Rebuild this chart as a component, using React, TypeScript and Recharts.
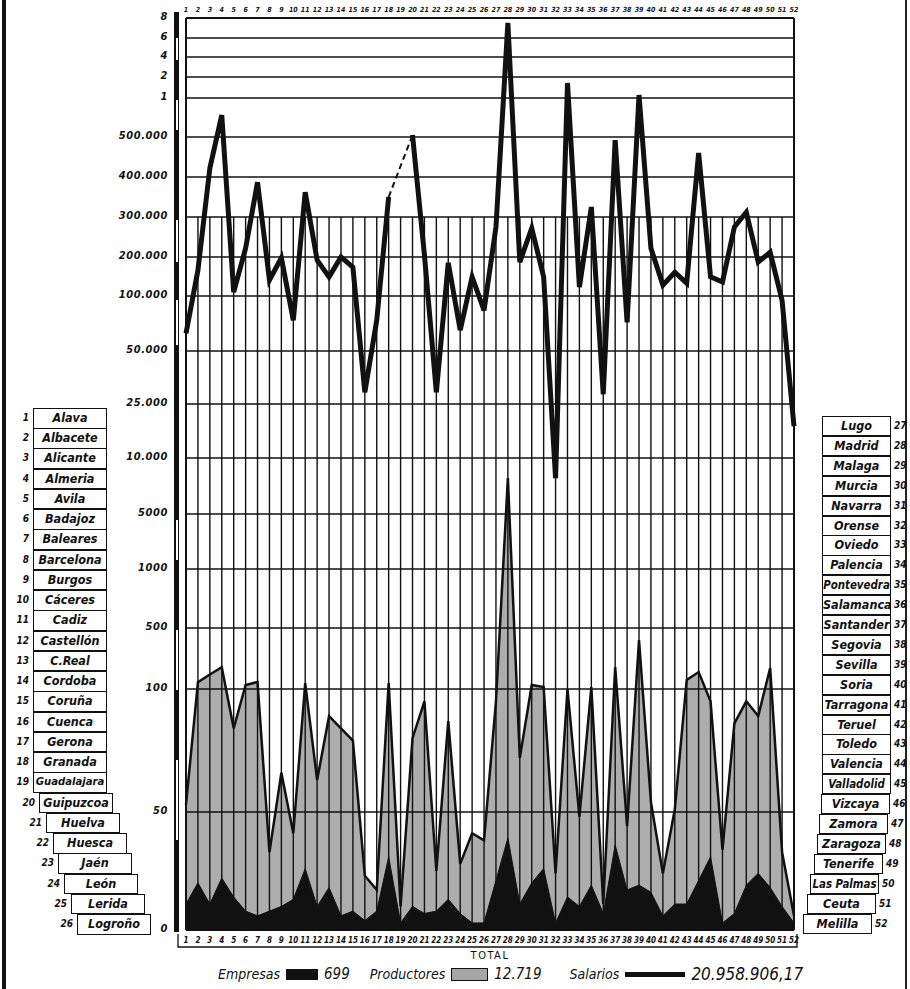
import React from "react";
import { ComposedChart, Area, Line, XAxis, YAxis, ReferenceLine } from "recharts";

// provincias 1..52
const provincias = [
  "Alava", "Albacete", "Alicante", "Almeria", "Avila", "Badajoz", "Baleares", "Barcelona", "Burgos", "Cáceres",
  "Cadiz", "Castellón", "C.Real", "Cordoba", "Coruña", "Cuenca", "Gerona", "Granada", "Guadalajara", "Guipuzcoa",
  "Huelva", "Huesca", "Jaén", "León", "Lerida", "Logroño", "Lugo", "Madrid", "Malaga", "Murcia",
  "Navarra", "Orense", "Oviedo", "Palencia", "Pontevedra", "Salamanca", "Santander", "Segovia", "Sevilla", "Soria",
  "Tarragona", "Teruel", "Toledo", "Valencia", "Valladolid", "Vizcaya", "Zamora", "Zaragoza", "Tenerife", "Las Palmas",
  "Ceuta", "Melilla",
];

const salarios: (number | null)[] = [
  66000, 166000, 422000, 780000, 110000, 222000, 387000, 141000, 198000, 78000,
  362000, 192000, 149000, 200000, 174000, 30500, 78000, 350000, null, 525000,
  205000, 30500, 185000, 69000, 149000, 87000, 275000, 7500000, 187000, 272000,
  149000, 8200, 1714000, 123000, 325000, 29600, 492000, 76000, 1140000, 222000,
  128000, 161000, 133000, 460000, 149000, 136000, 275000, 312000, 187000, 212000,
  96000, 18800,
];

const productores = [
  53, 145, 195, 243, 84, 126, 146, 33, 66, 41,
  139, 63, 89, 84, 79, 23, 17, 139, 10, 80,
  95, 25, 87, 28, 41, 38, 95, 8200, 72, 126,
  113, 24, 100, 48, 113, 11, 243, 44, 421, 54,
  24, 51, 159, 211, 95, 34, 86, 95, 89, 238,
  33, 6,
];

const empresas = [
  11, 20, 11, 22, 14, 8, 6, 8, 10, 13,
  26, 10, 18, 6, 8, 4, 8, 31, 3, 10,
  7, 8, 13, 7, 3, 3, 21, 39, 11, 20,
  26, 3, 14, 10, 19, 7, 36, 17, 19, 16,
  6, 11, 11, 21, 31, 3, 7, 19, 24, 18,
  10, 3,
];

// escala quebrada del original: valor -> altura
const scaleValues = [0, 50, 100, 500, 1000, 5000, 10000, 25000, 50000, 100000, 200000, 300000, 400000, 500000, 1000000, 2000000, 4000000, 6000000, 8000000];
const scaleLabels = ["0", "50", "100", "500", "1000", "5000", "10.000", "25.000", "50.000", "100.000", "200.000", "300.000", "400.000", "500.000", "1", "2", "4", "6", "8"];
const scaleLevels = [0, 118, 241, 302, 361, 416, 472, 526, 579, 634, 673, 713, 753, 793, 832, 853, 873, 892, 912];

function toLevel(v: number | null) {
  if (v == null) return null;
  for (let i = 1; i < scaleValues.length; i++) {
    if (v <= scaleValues[i]) {
      const t = (v - scaleValues[i - 1]) / (scaleValues[i] - scaleValues[i - 1]);
      return scaleLevels[i - 1] + t * (scaleLevels[i] - scaleLevels[i - 1]);
    }
  }
  return scaleLevels[scaleLevels.length - 1];
}

const data = provincias.map((name, i) => ({
  n: i + 1,
  name,
  salarios: salarios[i],
  productores: productores[i],
  empresas: empresas[i],
  enlace: i === 17 || i === 19 ? salarios[i] : null,
}));

const cols = provincias.map((_, i) => i + 1);
const hand = '"DejaVu Sans Condensed", "Liberation Sans Narrow", "DejaVu Sans", sans-serif';

const YTick = (props: any) => {
  const idx = scaleLevels.indexOf(props.payload.value);
  return (
    <text x={168} y={props.y} dy={2} textAnchor="end" fontFamily={hand} fontStyle="italic" fontWeight="bold"
      fontSize={11} letterSpacing={0.6} fill="#111">
      {scaleLabels[idx]}
    </text>
  );
};

const TopTick = (props: any) => (
  <text x={props.x} y={12} textAnchor="middle" fontFamily={hand} fontStyle="italic" fontWeight="bold" fontSize={7} fill="#111">
    {props.payload.value}
  </text>
);

const BottomTick = (props: any) => (
  <text x={props.x} y={943} textAnchor="middle" fontFamily={hand} fontStyle="italic" fontWeight="bold" fontSize={8} fill="#111">
    {props.payload.value}
  </text>
);

function Etiquetas() {
  const boxStyle: React.CSSProperties = {
    position: "absolute",
    border: "1px solid #111",
    boxSizing: "border-box",
    fontFamily: hand,
    fontStyle: "italic",
    fontWeight: "bold",
    textAlign: "center",
    lineHeight: "18px",
    color: "#111",
    background: "#fff",
    whiteSpace: "nowrap",
    overflow: "hidden",
  };
  const numStyle: React.CSSProperties = {
    position: "absolute",
    fontFamily: hand,
    fontStyle: "italic",
    fontWeight: "bold",
    fontSize: 10,
    lineHeight: "20px",
    color: "#111",
  };
  const fit = (p: string, w: number) => Math.min(12.5, (w - 5) / (p.length * 0.56));
  const leftShift = [39, 46, 53, 58, 64, 71, 77];
  const rightShift = [821, 819, 817, 814, 810, 807, 803];
  return (
    <>
      {provincias.slice(0, 26).map((p, i) => {
        const left = i < 19 ? 33 : leftShift[i - 19];
        const top = 408 + i * 20.24;
        return (
          <React.Fragment key={p}>
            <div style={{ ...numStyle, top, left: left - 26, width: 22, textAlign: "right" }}>{i + 1}</div>
            <div style={{ ...boxStyle, top, left, width: 74, height: 20.5, fontSize: fit(p, 74) }}>{p}</div>
          </React.Fragment>
        );
      })}
      {provincias.slice(26).map((p, i) => {
        const left = i < 19 ? 822 : rightShift[i - 19];
        const top = 416 + i * 19.9;
        return (
          <React.Fragment key={p}>
            <div style={{ ...boxStyle, top, left, width: 69, height: 20.2, fontSize: fit(p, 69) }}>{p}</div>
            <div style={{ ...numStyle, top, left: left + 72 }}>{i + 27}</div>
          </React.Fragment>
        );
      })}
    </>
  );
}

export default function App() {
  const vTop = toLevel(300000) as number;
  const legendText: React.CSSProperties = { fontFamily: hand, fontStyle: "italic", fontSize: 14, color: "#111" };
  return (
    <div style={{ position: "absolute", left: 0, top: 0, width: 910, height: 989, background: "#fff", overflow: "hidden" }}>
      {/* bordes de la hoja */}
      <div style={{ position: "absolute", left: 2, top: 0, width: 4, height: 989, background: "#111" }} />
      <div style={{ position: "absolute", left: 905, top: 0, width: 1.5, height: 989, background: "#222" }} />
      {/* regla vertical */}
      <div style={{ position: "absolute", left: 174, top: 12, width: 5, height: 920, background: "#111" }} />
      {[[38, 60], [100, 130], [220, 262], [300, 345], [520, 560], [630, 690], [760, 840]].map(([a, b]) => (
        <div key={a} style={{ position: "absolute", left: 176, top: a, width: 1.5, height: b - a, background: "#fff" }} />
      ))}

      <div style={{ position: "absolute", left: 0, top: 0 }}>
        <ComposedChart width={910} height={989} data={data} margin={{ top: 4, right: 116, bottom: 41, left: 0 }}>
          <XAxis xAxisId="top" orientation="top" type="number" dataKey="n" domain={[1, 52]} ticks={cols} interval={0}
            height={14} tickSize={0} axisLine={false} tick={<TopTick />} />
          <XAxis xAxisId="bottom" orientation="bottom" type="number" dataKey="n" domain={[1, 52]} ticks={cols} interval={0}
            height={18} tickSize={0} axisLine={false} tick={<BottomTick />} />
          <YAxis type="number" domain={[0, 912]} ticks={scaleLevels} interval={0} width={186}
            tickSize={0} axisLine={false} tick={<YTick />} allowDataOverflow />

          <Area xAxisId="bottom" type="linear" dataKey={(d: any) => toLevel(d.productores)} fill="#6a6a6a" fillOpacity={0.55}
            stroke="#111" strokeWidth={2.5} isAnimationActive={false} />
          <Area xAxisId="bottom" type="linear" dataKey={(d: any) => toLevel(d.empresas)} fill="#111" fillOpacity={1}
            stroke="#111" strokeWidth={1} isAnimationActive={false} />

          {scaleLevels.map((lv) => (
            <ReferenceLine key={"h" + lv} xAxisId="bottom" y={lv} stroke="#111" strokeWidth={lv === 0 || lv === 912 ? 2.2 : 1.3} />
          ))}
          {cols.map((c) => (
            <ReferenceLine key={"v" + c} xAxisId="bottom" segment={[{ x: c, y: 0 }, { x: c, y: c === 1 || c === 52 ? 912 : vTop }]}
              stroke="#111" strokeWidth={c === 1 || c === 52 ? 2 : 1.4} />
          ))}

          <Line xAxisId="top" type="linear" dataKey={(d: any) => toLevel(d.enlace)} stroke="#111" strokeWidth={2}
            strokeDasharray="6 4" dot={false} connectNulls isAnimationActive={false} />
          <Line xAxisId="bottom" type="linear" dataKey={(d: any) => toLevel(d.salarios)} stroke="#111" strokeWidth={5}
            strokeLinejoin="miter" dot={false} isAnimationActive={false} />
        </ComposedChart>
      </div>

      <Etiquetas />

      {/* llave inferior y TOTAL */}
      <svg style={{ position: "absolute", left: 0, top: 0 }} width={910} height={989}>
        <path d="M178 934 L178 947 L797 947 L797 934" fill="none" stroke="#111" strokeWidth={1.3} />
      </svg>
      <div style={{ position: "absolute", left: 440, top: 949, width: 100, textAlign: "center", fontFamily: hand, fontSize: 11, letterSpacing: 1.5, color: "#111" }}>
        TOTAL
      </div>

      <div style={{ position: "absolute", left: 218, top: 964, display: "flex", alignItems: "center", whiteSpace: "nowrap" }}>
        <span style={legendText}>Empresas</span>
        <span style={{ display: "inline-block", width: 32, height: 11, background: "#111", margin: "0 6px" }} />
        <span style={{ ...legendText, fontSize: 15 }}>699</span>
        <span style={{ ...legendText, marginLeft: 20 }}>Productores</span>
        <span style={{ display: "inline-block", width: 35, height: 11, background: "#a5a5a5", border: "1px solid #111", margin: "0 6px" }} />
        <span style={{ ...legendText, fontSize: 15 }}>12.719</span>
        <span style={{ ...legendText, marginLeft: 28 }}>Salarios</span>
        <span style={{ display: "inline-block", width: 60, height: 5, background: "#111", margin: "0 6px" }} />
        <span style={{ ...legendText, fontSize: 17 }}>20.958.906,17</span>
      </div>
    </div>
  );
}
